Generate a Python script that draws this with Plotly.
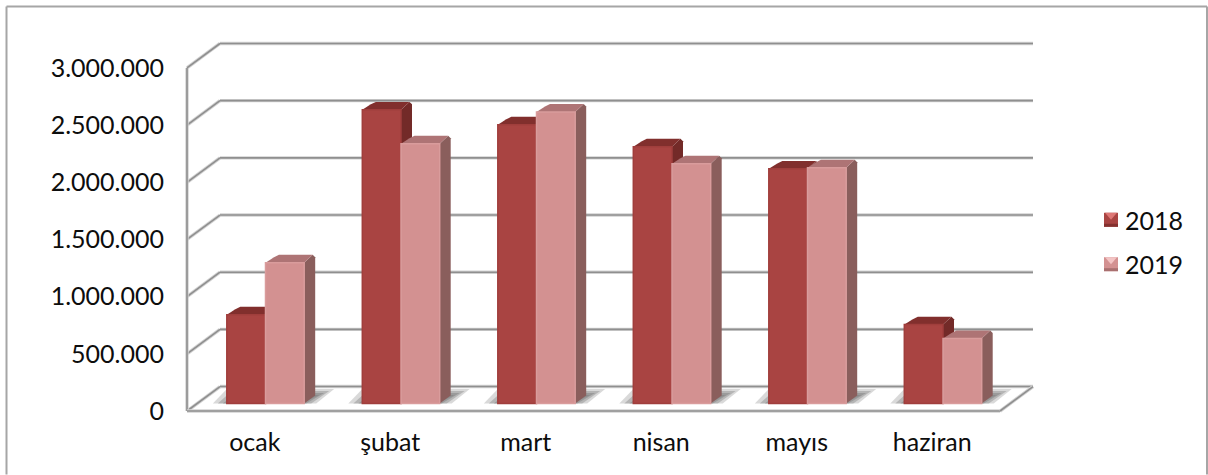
"""Aylara göre 2018/2019 sütun grafiği (3B görünümlü)."""

import plotly.graph_objects as go

# Veriler
MONTHS = ["ocak", "şubat", "mart", "nisan", "mayıs", "haziran"]
SERIES = ["2018", "2019"]
VALUES_2018 = [777000, 2568000, 2437000, 2245000, 2052000, 690000]
VALUES_2019 = [1232000, 2271000, 2550000, 2096000, 2061000, 568000]
Y_TICKS = [0, 500000, 1000000, 1500000, 2000000, 2500000, 3000000]
Y_LABELS = ["0", "500.000", "1.000.000", "1.500.000", "2.000.000", "2.500.000", "3.000.000"]

# Derinlik değerleri, eksen birimiyle
X_UNIT = 135.5  # px / kategori
V_UNIT = 57.25 / 500000  # px / değer
BAR_W = 38.7 / X_UNIT
BAR_SHIFT = 10.75 / X_UNIT
BASE_V = 7.5 / V_UNIT
BAR_DX = 11 / X_UNIT
BAR_DV = 8 / V_UNIT
WALL_DX = 33 / X_UNIT
WALL_DV = 24.5 / V_UNIT
CUT_X = 2.5 / X_UNIT
CUT_V = 2.5 / V_UNIT
X_MIN = -0.5
X_MAX = X_MIN + 6
GRID = "#8F8F8F"
GRID_SOFT = "#D2D2D2"

FONT = "Lato, sans-serif"

STYLES = {
    "2018": dict(front="#A94442", line="#A03E3C", side="#732A28", top="#812F2D",
                 glow="#DE7775", foot="#84312F"),
    "2019": dict(front="#D39191", line="#D99C9C", side="#8A5E5C", top="#AE7475",
                 glow="#F3C4C4", foot="#A97070"),
}


# Piksel -> kağıt koordinatı
def px_x(px):
    return (px - 177) / 866


def px_y(py):
    return (421.5 - py) / 387.5


def poly(points, color, layer="below", opacity=1, ref="x"):
    path = "M" + " L".join(f"{x},{y}" for x, y in points) + " Z"
    yref = "y" if ref == "x" else ref
    return dict(type="path", path=path, xref=ref, yref=yref,
                fillcolor=color, line=dict(width=0), layer=layer, opacity=opacity)


def seg(x0, y0, x1, y1, color=GRID, width=1.6):
    return dict(type="line", x0=x0, y0=y0, x1=x1, y1=y1, xref="x", yref="y",
                line=dict(color=color, width=width), layer="below")


def soft_seg(x0, y0, x1, y1):
    return [seg(x0, y0, x1, y1, GRID_SOFT, 3.4), seg(x0, y0, x1, y1)]


def border(x0, y0, x1, y1):
    return dict(type="line", x0=x0, y0=y0, x1=x1, y1=y1, xref="paper", yref="paper",
                line=dict(color="#A6A6A6", width=2), layer="below")


def bar_positions(sign):
    return [i + BAR_SHIFT + sign * BAR_W / 2 for i in range(len(MONTHS))]


def faces(xs, values, style):
    out = []
    for x, v in zip(xs, values):
        xl, xr = x - BAR_W / 2, x + BAR_W / 2
        top = BASE_V + v
        rear = top + BAR_DV
        out.append(poly([(xr, BASE_V), (xr + BAR_DX, BASE_V + BAR_DV),
                         (xr + BAR_DX, rear - CUT_V), (xr + BAR_DX - CUT_X, rear), (xr, top)], style["side"]))
        out.append(poly([(xl, top), (xl + BAR_DX - CUT_X, rear - CUT_V), (xl + BAR_DX + CUT_X, rear),
                         (xr + BAR_DX - CUT_X, rear), (xr, top)], style["top"]))
    return out


shapes = []

# Duvar ve zemin çizgileri
for v in Y_TICKS:
    shapes += soft_seg(X_MIN, v, X_MIN + WALL_DX, v + WALL_DV)
    shapes += soft_seg(X_MIN + WALL_DX, v + WALL_DV, X_MAX + WALL_DX, v + WALL_DV)
shapes += soft_seg(X_MIN, 0, X_MIN, Y_TICKS[-1])
shapes += soft_seg(X_MIN, 0, X_MAX, 0)
shapes += soft_seg(X_MAX, 0, X_MAX + WALL_DX, WALL_DV)

x_2018 = bar_positions(-1)
x_2019 = bar_positions(1)

# Zemindeki gölgeler
for x in x_2018:
    for pad, op in [(0, 0.3), (5, 0.4), (10, 0.5), (15, 0.55)]:
        x0 = x - BAR_W / 2 - (14 - pad) / X_UNIT
        x1 = x + BAR_W * 1.5 + (30 - pad) / X_UNIT
        high = (14.5 - pad * 0.4) / V_UNIT
        shapes.append(poly([(x0, BASE_V), (x0 + 14 / X_UNIT, BASE_V + high),
                            (x1, BASE_V + high), (x1 - 18 / X_UNIT, BASE_V)],
                           "#808080", opacity=op))

shapes += faces(x_2018, VALUES_2018, STYLES["2018"])
shapes += faces(x_2019, VALUES_2019, STYLES["2019"])

# Dış çerçeve
shapes.append(border(px_x(6.5), px_y(6.5), px_x(1207), px_y(6.5)))
shapes.append(border(px_x(6.5), px_y(6.5), px_x(6.5), px_y(475)))
shapes.append(border(px_x(1207), px_y(6.5), px_x(1207), px_y(475)))

# Lejant
annotations = []
for name, cy in zip(SERIES, [220, 264.5]):
    st = STYLES[name]
    l, r, t, b = 1104, 1118, cy - 7, cy + 7
    shapes.append(poly([(px_x(l), px_y(t)), (px_x(r), px_y(t)), (px_x(r), px_y(b)), (px_x(l), px_y(b))],
                       st["front"], layer="above", ref="paper"))
    shapes.append(poly([(px_x(l + 1), px_y(t)), (px_x(r - 1), px_y(t)), (px_x((l + r) / 2), px_y(t + 7))],
                       st["glow"], layer="above", ref="paper"))
    shapes.append(poly([(px_x(l), px_y(b - 3)), (px_x(r), px_y(b - 3)), (px_x(r), px_y(b)), (px_x(l), px_y(b))],
                       st["foot"], layer="above", ref="paper"))
    annotations.append(dict(text=name, x=px_x(1124), y=px_y(cy), xref="paper", yref="paper",
                            xanchor="left", yanchor="middle", showarrow=False, xshift=-1,
                            font=dict(size=25)))

fig = go.Figure()
for name, xs, values in zip(SERIES, [x_2018, x_2019], [VALUES_2018, VALUES_2019]):
    st = STYLES[name]
    fig.add_trace(go.Bar(
        x=xs, y=values, base=BASE_V, width=BAR_W, name=name,
        marker=dict(color=st["front"], line=dict(color=st["line"], width=1.5)),
        hovertext=MONTHS,
    ))

fig.update_layout(
    width=1208,
    height=475,
    margin=dict(l=177, r=165, t=34, b=53.5, pad=0),
    barmode="overlay",
    showlegend=False,
    paper_bgcolor="white",
    plot_bgcolor="rgba(0,0,0,0)",
    font=dict(family=FONT, size=25, color="#0D0D0D"),
    shapes=shapes,
    annotations=annotations,
    xaxis=dict(
        range=[X_MIN - 10 / X_UNIT, X_MIN + 856 / X_UNIT], tickvals=list(range(len(MONTHS))), ticktext=MONTHS,
        showgrid=False, zeroline=False, showline=False, ticks="",
        tickfont=dict(size=25), ticklabelstandoff=4,
    ),
    yaxis=dict(
        range=[-10 / V_UNIT, 377.5 / V_UNIT], tickvals=Y_TICKS, ticktext=Y_LABELS,
        showgrid=False, zeroline=False, showline=False, ticks="",
        tickfont=dict(size=25), ticklabelstandoff=12,
    ),
)

# Sayfa kenar boşluğunu kaldır, grafik pencereye tam otursun
fig.write_html(
    "out.html",
    config=dict(displayModeBar=False),
    post_script="document.body.style.margin='0';document.body.style.overflow='hidden';",
)
